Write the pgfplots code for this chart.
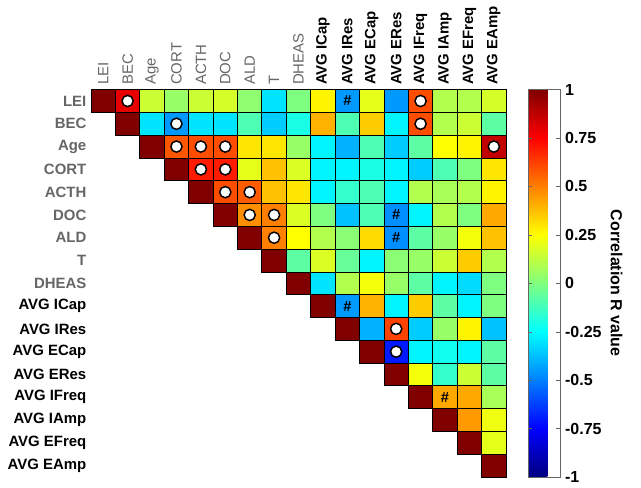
\documentclass[border=0pt]{standalone}
\usepackage{pgfplots}
\pgfplotsset{compat=1.18}
\usepackage{pgfplotstable}
\usepackage{fontspec}
\setmainfont{Liberation Sans}

% upper triangle of the correlation matrix: row, column, R
\pgfplotstableread[row sep=\\]{
r c v\\
0 0 1\\ 0 1 0.8\\ 0 2 0.15\\ 0 3 0.05\\ 0 4 0.15\\ 0 5 0.17\\ 0 6 0.03\\ 0 7 -0.3\\ 0 8 0\\ 0 9 0.27\\ 0 10 -0.45\\ 0 11 0.2\\ 0 12 -0.45\\ 0 13 0.6\\ 0 14 0.1\\ 0 15 0.1\\ 0 16 0.17\\
1 1 1\\ 1 2 -0.3\\ 1 3 -0.45\\ 1 4 -0.3\\ 1 5 -0.3\\ 1 6 -0.1\\ 1 7 -0.35\\ 1 8 -0.2\\ 1 9 0.4\\ 1 10 -0.1\\ 1 11 0.35\\ 1 12 -0.27\\ 1 13 0.6\\ 1 14 0.1\\ 1 15 0.15\\ 1 16 -0.07\\
2 2 1\\ 2 3 0.58\\ 2 4 0.6\\ 2 5 0.6\\ 2 6 0.3\\ 2 7 0.3\\ 2 8 0.05\\ 2 9 -0.27\\ 2 10 -0.4\\ 2 11 -0.1\\ 2 12 -0.35\\ 2 13 -0.07\\ 2 14 0.25\\ 2 15 0.27\\ 2 16 0.87\\
3 3 1\\ 3 4 0.7\\ 3 5 0.7\\ 3 6 0.2\\ 3 7 0.37\\ 3 8 0.18\\ 3 9 -0.27\\ 3 10 -0.27\\ 3 11 -0.2\\ 3 12 -0.27\\ 3 13 -0.35\\ 3 14 -0.1\\ 3 15 0\\ 3 16 0.3\\
4 4 1\\ 4 5 0.6\\ 4 6 0.57\\ 4 7 0.37\\ 4 8 0.3\\ 4 9 -0.27\\ 4 10 -0.15\\ 4 11 -0.1\\ 4 12 -0.27\\ 4 13 0.1\\ 4 14 0.08\\ 4 15 0.1\\ 4 16 0.27\\
5 5 1\\ 5 6 0.47\\ 5 7 0.5\\ 5 8 0.18\\ 5 9 0\\ 5 10 -0.37\\ 5 11 -0.1\\ 5 12 -0.47\\ 5 13 -0.27\\ 5 14 0.1\\ 5 15 0\\ 5 16 0.42\\
6 6 1\\ 6 7 0.5\\ 6 8 0.25\\ 6 9 0.1\\ 6 10 0.02\\ 6 11 0.32\\ 6 12 -0.47\\ 6 13 -0.07\\ 6 14 0.05\\ 6 15 0.23\\ 6 16 0.37\\
7 7 1\\ 7 8 -0.07\\ 7 9 0.18\\ 7 10 -0.05\\ 7 11 -0.27\\ 7 12 0.02\\ 7 13 0.05\\ 7 14 0.15\\ 7 15 0.35\\ 7 16 0.1\\
8 8 1\\ 8 9 -0.3\\ 8 10 0.1\\ 8 11 0.23\\ 8 12 0.05\\ 8 13 -0.07\\ 8 14 -0.27\\ 8 15 -0.32\\ 8 16 0\\
9 9 1\\ 9 10 -0.45\\ 9 11 0.4\\ 9 12 -0.27\\ 9 13 0.35\\ 9 14 -0.07\\ 9 15 -0.27\\ 9 16 0\\
10 10 1\\ 10 11 -0.4\\ 10 12 0.62\\ 10 13 -0.35\\ 10 14 0.05\\ 10 15 0.27\\ 10 16 -0.37\\
11 11 1\\ 11 12 -0.7\\ 11 13 -0.27\\ 11 14 -0.22\\ 11 15 -0.27\\ 11 16 -0.07\\
12 12 1\\ 12 13 0.23\\ 12 14 -0.15\\ 12 15 0.15\\ 12 16 -0.07\\
13 13 1\\ 13 14 0.42\\ 13 15 0.42\\ 13 16 0.08\\
14 14 1\\ 14 15 0.45\\ 14 16 0.22\\
15 15 1\\ 15 16 0.2\\
16 16 1\\
}\corr

% cells marked with a circle
\pgfplotstableread[row sep=\\]{
r c\\
0 1\\ 0 13\\ 1 3\\ 1 13\\ 2 3\\ 2 4\\ 2 5\\ 2 16\\ 3 4\\ 3 5\\ 4 5\\ 4 6\\ 5 6\\ 5 7\\ 6 7\\ 10 12\\ 11 12\\
}\sigcirc

% cells marked with #
\pgfplotstableread[row sep=\\]{
r c\\
0 10\\ 5 12\\ 6 12\\ 9 10\\ 13 14\\
}\sighash

\colorlet{lblgray}{black!60}

\begin{document}
\begin{tikzpicture}
\useasboundingbox (0,0) rectangle (480.75pt,-365.25pt);
\begin{axis}[
    at={(68.25pt,-67.2pt)}, anchor=north west,
    x=18.31pt, y=17.09pt,
    xmin=-0.5, xmax=16.5, ymin=-0.5, ymax=16.5,
    axis line style={draw=none},
    major tick length=0pt,
    xtick={0,...,16}, ytick={0,...,16},
    xticklabel pos=upper,
    xticklabel style={rotate=90, anchor=west, font=\fontsize{11.2}{13}\selectfont},
    yticklabel style={font=\fontsize{11.2}{13}\selectfont},
    xticklabels={{\color{lblgray}LEI},{\color{lblgray}BEC},{\color{lblgray}Age},{\color{lblgray}CORT},
      {\color{lblgray}ACTH},{\color{lblgray}DOC},{\color{lblgray}ALD},{\color{lblgray}T},{\color{lblgray}DHEAS},
      {\bfseries AVG ICap},{\bfseries AVG IRes},{\bfseries AVG ECap},{\bfseries AVG ERes},
      {\bfseries AVG IFreq},{\bfseries AVG IAmp},{\bfseries AVG EFreq},{\bfseries AVG EAmp}},
    yticklabels={{\bfseries AVG EAmp},{\bfseries AVG EFreq},{\bfseries AVG IAmp},{\bfseries AVG IFreq},
      {\bfseries AVG ERes},{\bfseries AVG ECap},{\bfseries AVG IRes},{\bfseries AVG ICap},
      {\bfseries\color{lblgray}DHEAS},{\bfseries\color{lblgray}T},{\bfseries\color{lblgray}ALD},
      {\bfseries\color{lblgray}DOC},{\bfseries\color{lblgray}ACTH},{\bfseries\color{lblgray}CORT},
      {\bfseries\color{lblgray}Age},{\bfseries\color{lblgray}BEC},{\bfseries\color{lblgray}LEI}},
    colormap/jet,
    point meta min=-1, point meta max=1,
    colorbar,
    colorbar style={
        at={(parent axis.north east)}, anchor=north west, xshift=8.25pt,
        width=24pt,
        axis line style={draw=black!60},
        major tick length=3pt,
        tick style={draw=black!60},
        ytick={-1,-0.75,-0.5,-0.25,0,0.25,0.5,0.75,1},
        yticklabels={-1,-0.75,-0.5,-0.25,0,0.25,0.5,0.75,1},
        yticklabel style={font=\fontsize{12}{14}\selectfont\bfseries},
        ylabel={Correlation R value},
        ylabel style={font=\fontsize{12}{14}\selectfont\bfseries, rotate=180},
    },
]
    \addplot[scatter, only marks, mark=square*, mark size=9.155pt,
        scatter/use mapped color={draw=black, fill=mapped color},
        mark options={yscale=0.9334, line width=0.6pt},
        point meta=explicit]
        table[x=c, y expr=16-\thisrow{r}, meta=v] {\corr};

    \addplot[only marks, mark=*, mark size=4.2pt,
        mark options={fill=white, draw=black, line width=1.1pt}]
        table[x=c, y expr=16-\thisrow{r}] {\sigcirc};

    \addplot[only marks, mark=text,
        text mark={\fontsize{11}{11}\selectfont\bfseries\#}]
        table[x=c, y expr=16-\thisrow{r}] {\sighash};
\end{axis}
\end{tikzpicture}
\end{document}
